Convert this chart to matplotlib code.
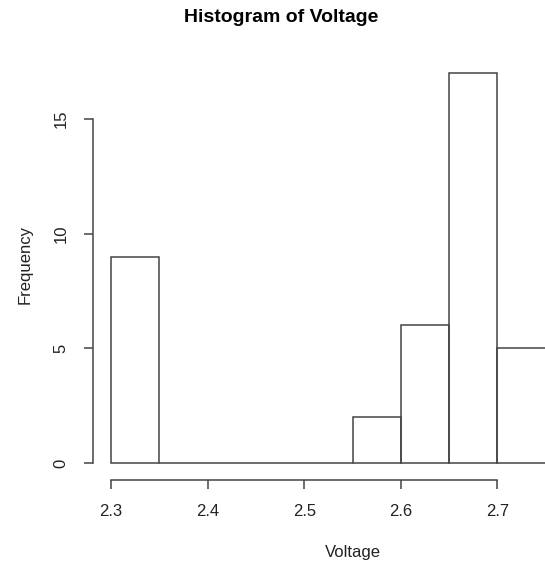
import numpy as np
import matplotlib
matplotlib.use("Agg")
import matplotlib.pyplot as plt

# Data
bin_edges = [2.30, 2.35, 2.40, 2.45, 2.50, 2.55, 2.60, 2.65, 2.70, 2.75]
counts = [9, 0, 0, 0, 0, 2, 6, 17, 5]
x_ticks = [2.3, 2.4, 2.5, 2.6, 2.7]
y_ticks = [0, 5, 10, 15]
title = "Histogram of Voltage"
xlabel = "Voltage"
ylabel = "Frequency"

plt.rcParams['font.family'] = ['Liberation Sans', 'DejaVu Sans']
line_col = '#444444'
text_col = '#222222'

W, H = 545, 570
fig = plt.figure(figsize=(W / 100, H / 100), dpi=100)

# pixel geometry of the plot region
px_left, px_right, px_bottom, px_top = 93, 545, 480, 60
ax = fig.add_axes([px_left / W, 1 - px_bottom / H,
                   (px_right - px_left) / W, (px_bottom - px_top) / H])

edges = np.array(bin_edges)
ax.bar(edges[:-1], counts, width=np.diff(edges), align='edge',
       fill=False, edgecolor=line_col, linewidth=1.1)

# data <-> pixel mapping from reference (2.3 at x=111, 0.1 per 96.5px; 0 at y=463, 22.93px/unit)
ppx = 965.0
ppy = 22.93
ax.set_xlim(2.3 - (111 - px_left) / ppx, 2.3 + (px_right - 0.5 - 111) / ppx)
ax.set_ylim(-(px_bottom - 463) / ppy, (463 - px_top) / ppy)

for s in ['top', 'right']:
    ax.spines[s].set_visible(False)
ax.spines['left'].set_bounds(0, 15)
ax.spines['bottom'].set_bounds(2.3, 2.7)
for s in ['left', 'bottom']:
    ax.spines[s].set_color(line_col)
    ax.spines[s].set_linewidth(1.1)

ax.set_xticks(x_ticks)
ax.set_xticklabels([f"{v:.1f}" for v in x_ticks])
ax.set_yticks(y_ticks)
ax.set_yticklabels([str(v) for v in y_ticks], rotation=90, va='center')
ax.tick_params(axis='both', direction='out', length=6.5, width=1.1,
               color=line_col, labelcolor=text_col, labelsize=12)
ax.tick_params(axis='x', pad=11)
ax.tick_params(axis='y', pad=11)

fig.text(281 / W, 1 - 18 / H, title, ha='center', va='center',
         fontsize=14, fontweight='bold', color='black')
fig.text(353 / W, 1 - 553 / H, xlabel, ha='center', va='center',
         fontsize=12, color=text_col)
fig.text(25 / W, 1 - 265 / H, ylabel, ha='center', va='center',
         fontsize=12, color=text_col, rotation=90)

fig.savefig("out.png", dpi=100)
